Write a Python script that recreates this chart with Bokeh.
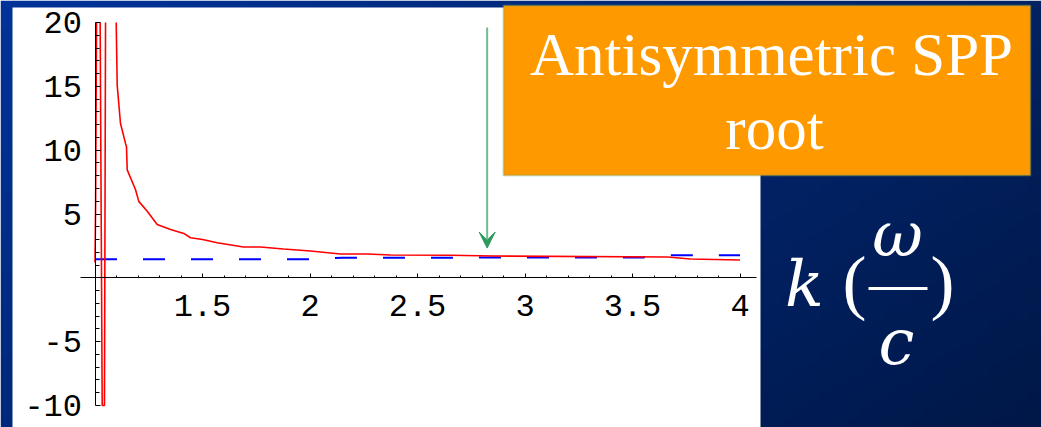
import numpy as np
from bokeh.plotting import figure
from bokeh.models import Range1d, FixedTicker, BoxAnnotation, Label, Arrow, VeeHead
from bokeh.embed import file_html
from bokeh.resources import INLINE

# ---------------- data ----------------
# branch rising from the y-axis
RED_LEFT_X = [1.000, 1.003, 1.007]
RED_LEFT_Y = [1.2, 6.0, 20.0]
# pole (clipped at the plot range)
RED_POLE_X = [1.024, 1.0335, 1.044, 1.049]
RED_POLE_Y = [20.0, -10.0, -10.0, 20.0]
# main decaying branch
RED_MAIN_X = [1.0986, 1.1033, 1.1186, 1.1419, 1.1465, 1.1498, 1.1886, 1.2037, 1.2428,
              1.2893, 1.3512, 1.4130, 1.4442, 1.5000, 1.568, 1.6907, 1.7698, 1.8767,
              2.0023, 2.1419, 2.2674, 2.3744, 2.653, 2.8535, 3.6628, 3.7698, 4.0]
RED_MAIN_Y = [20.0, 15.07, 12.09, 10.53, 10.27, 8.46, 6.90, 5.99, 5.21,
              4.18, 3.79, 3.48, 3.14, 3.00, 2.75, 2.41, 2.41, 2.26,
              2.10, 1.87, 1.87, 1.79, 1.77, 1.71, 1.63, 1.48, 1.40]
# dashed light line
BLUE_X = [1.0, 2.0, 2.15, 3.55, 3.65, 4.0]
BLUE_Y = [1.45, 1.46, 1.57, 1.60, 1.76, 1.77]

X_TICKS = [1.5, 2.0, 2.5, 3.0, 3.5, 4.0]
X_TICK_LABELS = ["1.5", "2", "2.5", "3", "3.5", "4"]
X_MINOR = [1.1, 1.2, 1.3, 1.4, 1.6, 1.7, 1.8, 1.9, 2.1, 2.2, 2.3, 2.4, 2.6, 2.7, 2.8, 2.9,
           3.1, 3.2, 3.3, 3.4, 3.6, 3.7, 3.8, 3.9]
Y_TICKS = [-10, -5, 5, 10, 15, 20]
Y_TICK_LABELS = ["-10", "-5", "5", "10", "15", "20"]
Y_MINOR = [-9, -8, -7, -6, -4, -3, -2, -1, 1, 2, 3, 4, 6, 7, 8, 9, 11, 12, 13, 14, 16, 17, 18, 19]

BOX_LINES = ["Antisymmetric SPP", "root"]
ARROW_X, ARROW_TOP, ARROW_TIP = 2.824, 19.6, 2.33

# ---------------- layout (canvas pixels -> data) ----------------
W, H = 1041, 427
Y_TOP_PX, Y_BOT_PX = 22.0, 405.0   # canvas rows of y = 20 and y = -10
PX_X = 215.0                        # pixels per x unit
PX_Y = (Y_BOT_PX - Y_TOP_PX) / 30.0
X_ORIGIN_PX = 94.5
Y_ORIGIN_PX = Y_TOP_PX + 20 * PX_Y


def X(px):
    return 1.0 + (px - X_ORIGIN_PX) / PX_X


def Y(py):
    return (Y_ORIGIN_PX - py) / PX_Y


p = figure(width=W, height=H, output_backend="svg", toolbar_location=None,
           x_range=Range1d(X(0), X(W)), y_range=Range1d(Y(H), Y(0)),
           min_border=0, background_fill_color="white", border_fill_color="white",
           outline_line_color=None)
p.grid.visible = False

# slide background: blue gradient over the whole canvas
ny, nx = 60, 80
img = np.empty((ny, nx), dtype=np.uint32)
v = img.view(dtype=np.uint8).reshape((ny, nx, 4))
tl = np.array([0, 51, 153]); tr = np.array([4, 34, 98])
bl = np.array([0, 40, 122]); br = np.array([0, 24, 72])
fy = np.linspace(0, 1, ny)[:, None, None]   # 0 bottom, 1 top
fx = np.linspace(0, 1, nx)[None, :, None]
top = tl * (1 - fx) + tr * fx
bot = bl * (1 - fx) + br * fx
col = bot * (1 - fy) + top * fy
v[:, :, 0:3] = col.astype(np.uint8)
v[:, :, 3] = 255
p.image_rgba(image=[img], x=X(0), y=Y(H), dw=X(W) - X(0), dh=Y(0) - Y(H), level="image")
# white plotting area
p.add_layout(BoxAnnotation(left=X(12), right=X(760), top=Y(7), bottom=Y(H + 5),
                           fill_color="white", fill_alpha=1, line_color=None, level="underlay"))

# curves
p.line(BLUE_X, BLUE_Y, line_color="#0000ff", line_width=2, line_dash="22 26")
for xs, ys in [(RED_LEFT_X, RED_LEFT_Y), (RED_POLE_X, RED_POLE_Y), (RED_MAIN_X, RED_MAIN_Y)]:
    p.line(xs, ys, line_color="#ff0000", line_width=1.6)

# axes through the origin
p.xaxis.fixed_location = 0
p.yaxis.fixed_location = 1.0
p.xaxis.bounds = (X(80), X(756))
p.yaxis.bounds = (-10, 20)
p.xaxis.ticker = FixedTicker(ticks=X_TICKS, minor_ticks=X_MINOR)
p.yaxis.ticker = FixedTicker(ticks=Y_TICKS, minor_ticks=Y_MINOR)
p.xaxis.major_label_overrides = dict(zip(X_TICKS, X_TICK_LABELS))
p.yaxis.major_label_overrides = dict(zip([float(t) for t in Y_TICKS], Y_TICK_LABELS))
for ax in (p.xaxis, p.yaxis):
    ax.axis_line_color = "black"
    ax.axis_line_width = 1
    ax.major_tick_line_color = "black"
    ax.minor_tick_line_color = "black"
    ax.major_tick_out = 0
    ax.minor_tick_out = 0
    ax.major_label_text_font = "Liberation Mono"
    ax.major_label_text_font_size = "32px"
    ax.major_label_text_color = "black"
p.xaxis.major_tick_in = 4
p.xaxis.minor_tick_in = 2
p.yaxis.major_tick_in = 5
p.yaxis.minor_tick_in = 4
p.xaxis.major_label_standoff = 17
p.yaxis.major_label_standoff = 13

# arrow
p.add_layout(Arrow(end=VeeHead(size=16, fill_color="#2e9a5e", line_color="#2e9a5e"),
                   x_start=ARROW_X, y_start=ARROW_TOP, x_end=ARROW_X, y_end=ARROW_TIP,
                   line_color="#6cbd8f", line_width=2))

# orange label box
p.add_layout(BoxAnnotation(left=X(503), right=X(1030), top=Y(5), bottom=Y(175),
                           fill_color="#ff9900", fill_alpha=1,
                           line_color="#5aa06e", line_width=2))


def text_label(px, baseline_py, txt, size, align="center", italic=False, font="Liberation Serif"):
    # labels are centred vertically ("middle"); shift so that the baseline lands where wanted
    py = baseline_py - 0.36 * size
    p.add_layout(Label(x=X(px), y=Y(py), text=txt, text_font=font,
                       text_font_style="italic" if italic else "normal",
                       text_font_size=f"{size}px", text_color="white", text_align=align,
                       text_baseline="middle"))


text_label(771, 76, BOX_LINES[0], 61)
text_label(774, 150, BOX_LINES[1], 61)

# k (omega / c)
text_label(804, 307, "k", 64, italic=True, font="DejaVu Serif")
text_label(842, 307, "(", 72, align="left")
text_label(897, 256, "\u03c9", 62, italic=True, font="DejaVu Serif")
text_label(896, 365, "c", 64, italic=True, font="DejaVu Serif")
text_label(930, 307, ")", 72, align="left")
p.add_layout(BoxAnnotation(left=X(868), right=X(927), top=Y(286.5), bottom=Y(289.5),
                           fill_color="white", fill_alpha=1, line_color=None))

open("out.html", "w").write(file_html(p, INLINE))
